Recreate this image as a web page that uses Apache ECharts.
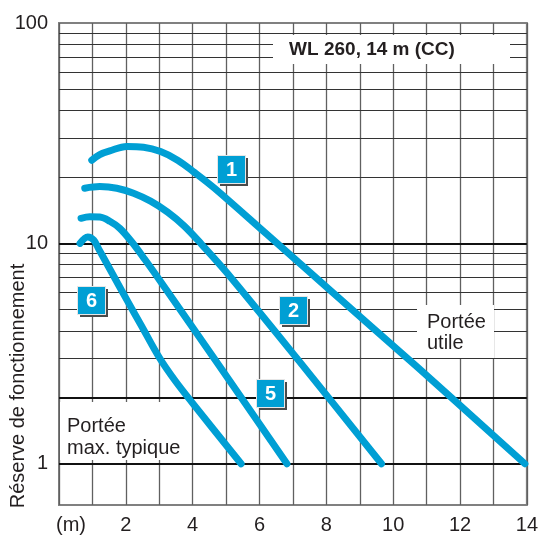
<!DOCTYPE html>
<html>
<head>
<meta charset="utf-8">
<script src="https://cdn.jsdelivr.net/npm/echarts@6/dist/echarts.min.js"></script>
<style>
html,body{margin:0;padding:0;background:#fff;}
#c{width:541px;height:540px;}
</style>
</head>
<body>
<div id="c"></div>
<script>
// ---- data ----
const curve1X = [0.98, 1.22, 1.52, 2.03, 2.53, 3.04, 3.55, 4.05, 4.65, 6.2, 8.16, 10.75, 13.94];
const curve1Y = [23.85, 25.3, 26.3, 27.5, 27.3, 26.1, 23.85, 21.0, 17.8, 11.06, 6.04, 2.72, 1.0];
const curve2X = [0.77, 1.22, 1.73, 2.23, 2.74, 3.25, 3.75, 4.26, 5.03, 7.18, 9.65];
const curve2Y = [17.8, 18.1, 17.8, 16.9, 15.55, 13.86, 11.98, 9.93, 7.34, 2.93, 1.0];
const curve5X = [0.66, 0.92, 1.22, 1.52, 1.82, 2.18, 2.56, 3.07, 4.8, 6.82];
const curve5Y = [13.0, 13.2, 13.16, 12.6, 11.7, 10.14, 8.49, 6.61, 2.78, 1.0];
const curve6X = [0.63, 0.86, 1.04, 1.19, 1.52, 2.03, 2.47, 3.01, 3.46, 3.99, 5.45];
const curve6Y = [10.0, 10.7, 10.35, 9.42, 7.65, 5.54, 4.22, 3.02, 2.4, 1.89, 1.0];
const hLinesMinor = [3, 4, 5, 6, 7, 8, 9, 20, 30, 40, 50, 60, 70, 80, 90];
const hLinesMajor = [1, 2, 10];
const yTickLabels = [1, 10, 100];
const xLabelEvery = 2;
const xUnit = '(m)';
const yName = 'Réserve de fonctionnement';
const title = 'WL 260, 14 m (CC)';
const noteUtile = 'Portée\nutile';
const noteMax = 'Portée\nmax. typique';

// ---- chart ----
const FONT = '"Liberation Sans", Arial, sans-serif';
const TXT = '#231f20';
const BLUE = '#009fd4';
const zip = (xs, ys) => xs.map((x, i) => [x, ys[i]]);

const chart = echarts.init(document.getElementById('c'), null, {renderer: 'canvas'});

function curve(name, xs, ys, extra) {
  return Object.assign({
    name, type: 'line', data: zip(xs, ys), smooth: 0.35, showSymbol: false, symbol: 'none',
    silent: true, z: 4,
    lineStyle: {color: BLUE, width: 7, cap: 'round', join: 'round'}
  }, extra || {});
}

function numBox(n, x, y) {
  return {
    type: 'group', x, y, z: 20,
    children: [
      {type: 'rect', shape: {x: 2, y: 2, width: 28, height: 28}, style: {fill: '#4a4a4a'}, z: 20},
      {type: 'rect', shape: {x: -1, y: -1, width: 29, height: 29}, style: {fill: '#e6e6e6'}, z: 21},
      {type: 'rect', shape: {x: 0, y: 0, width: 27, height: 27}, style: {fill: BLUE}, z: 22},
      {type: 'text', x: 13.5, y: 14, z: 23, style: {text: String(n), fill: '#fff', font: 'bold 20px ' + FONT, textAlign: 'center', textVerticalAlign: 'middle'}}
    ]
  };
}

const option = {
  animation: false,
  backgroundColor: '#fff',
  grid: {left: 59, right: 12, top: 23, bottom: 35, show: true, borderColor: '#808080', borderWidth: 2, backgroundColor: 'transparent'},
  xAxis: {
    type: 'value', min: 0, max: 14, interval: 1,
    axisLine: {show: false}, axisTick: {show: false},
    splitLine: {show: true, lineStyle: {color: '#606060', width: 1.3}},
    axisLabel: {
      margin: 10, color: TXT, fontFamily: FONT, fontSize: 20, showMaxLabel: true, showMinLabel: true,
      formatter: v => v === 0 ? '{m|' + xUnit + '}' : (v % xLabelEvery === 0 ? String(v) : ''),
      rich: {m: {fontFamily: FONT, fontSize: 20, color: TXT, padding: [0, 0, 0, 24]}}
    }
  },
  yAxis: {
    type: 'log', logBase: 10, min: 0.65, max: 100,
    axisLine: {show: false}, axisTick: {show: false}, splitLine: {show: false},
    axisLabel: {
      margin: 11, color: TXT, fontFamily: FONT, fontSize: 20,
      formatter: v => {
        const r = yTickLabels.find(t => Math.abs(t - v) / t < 1e-6);
        return r !== undefined ? String(r) : '';
      }
    }
  },
  graphic: [
    {type: 'rect', z: 10, shape: {x: 273, y: 35, width: 237, height: 29}, style: {fill: '#fff'}},
    {type: 'text', z: 11, x: 372, y: 50, style: {text: title, fill: TXT, font: 'bold 19px ' + FONT, textAlign: 'center', textVerticalAlign: 'middle'}},
    {type: 'rect', z: 10, shape: {x: 417, y: 305, width: 77, height: 53}, style: {fill: '#fff'}},
    {type: 'text', z: 11, x: 427, y: 312, style: {text: noteUtile, fill: TXT, font: '20px ' + FONT, lineHeight: 21, textAlign: 'left', textVerticalAlign: 'top'}},
    {type: 'rect', z: 10, shape: {x: 60, y: 402, width: 123, height: 58}, style: {fill: '#fff'}},
    {type: 'text', z: 11, x: 67, y: 415, style: {text: noteMax, fill: TXT, font: '20px ' + FONT, lineHeight: 22, textAlign: 'left', textVerticalAlign: 'top'}},
    {type: 'text', z: 11, x: 18, y: 386, rotation: Math.PI / 2, style: {text: yName, fill: TXT, font: '20px ' + FONT, textAlign: 'center', textVerticalAlign: 'middle'}},
    numBox(1, 218, 156),
    numBox(2, 280, 297),
    numBox(5, 257, 380),
    numBox(6, 78, 287)
  ],
  series: [
    {
      name: 'grid', type: 'line', data: [], silent: true, z: 1,
      markLine: {
        silent: true, symbol: 'none', z: 1, animation: false,
        label: {show: false}, emphasis: {disabled: true},
        data: hLinesMinor.map(v => ({yAxis: v, lineStyle: {color: '#333', width: 1.2, type: 'solid'}}))
          .concat(hLinesMajor.map(v => ({yAxis: v, lineStyle: {color: '#111', width: 2, type: 'solid'}})))
      }
    },
    curve('1', curve1X, curve1Y),
    curve('2', curve2X, curve2Y),
    curve('5', curve5X, curve5Y),
    curve('6', curve6X, curve6Y)
  ]
};
chart.setOption(option);
</script>
</body>
</html>
